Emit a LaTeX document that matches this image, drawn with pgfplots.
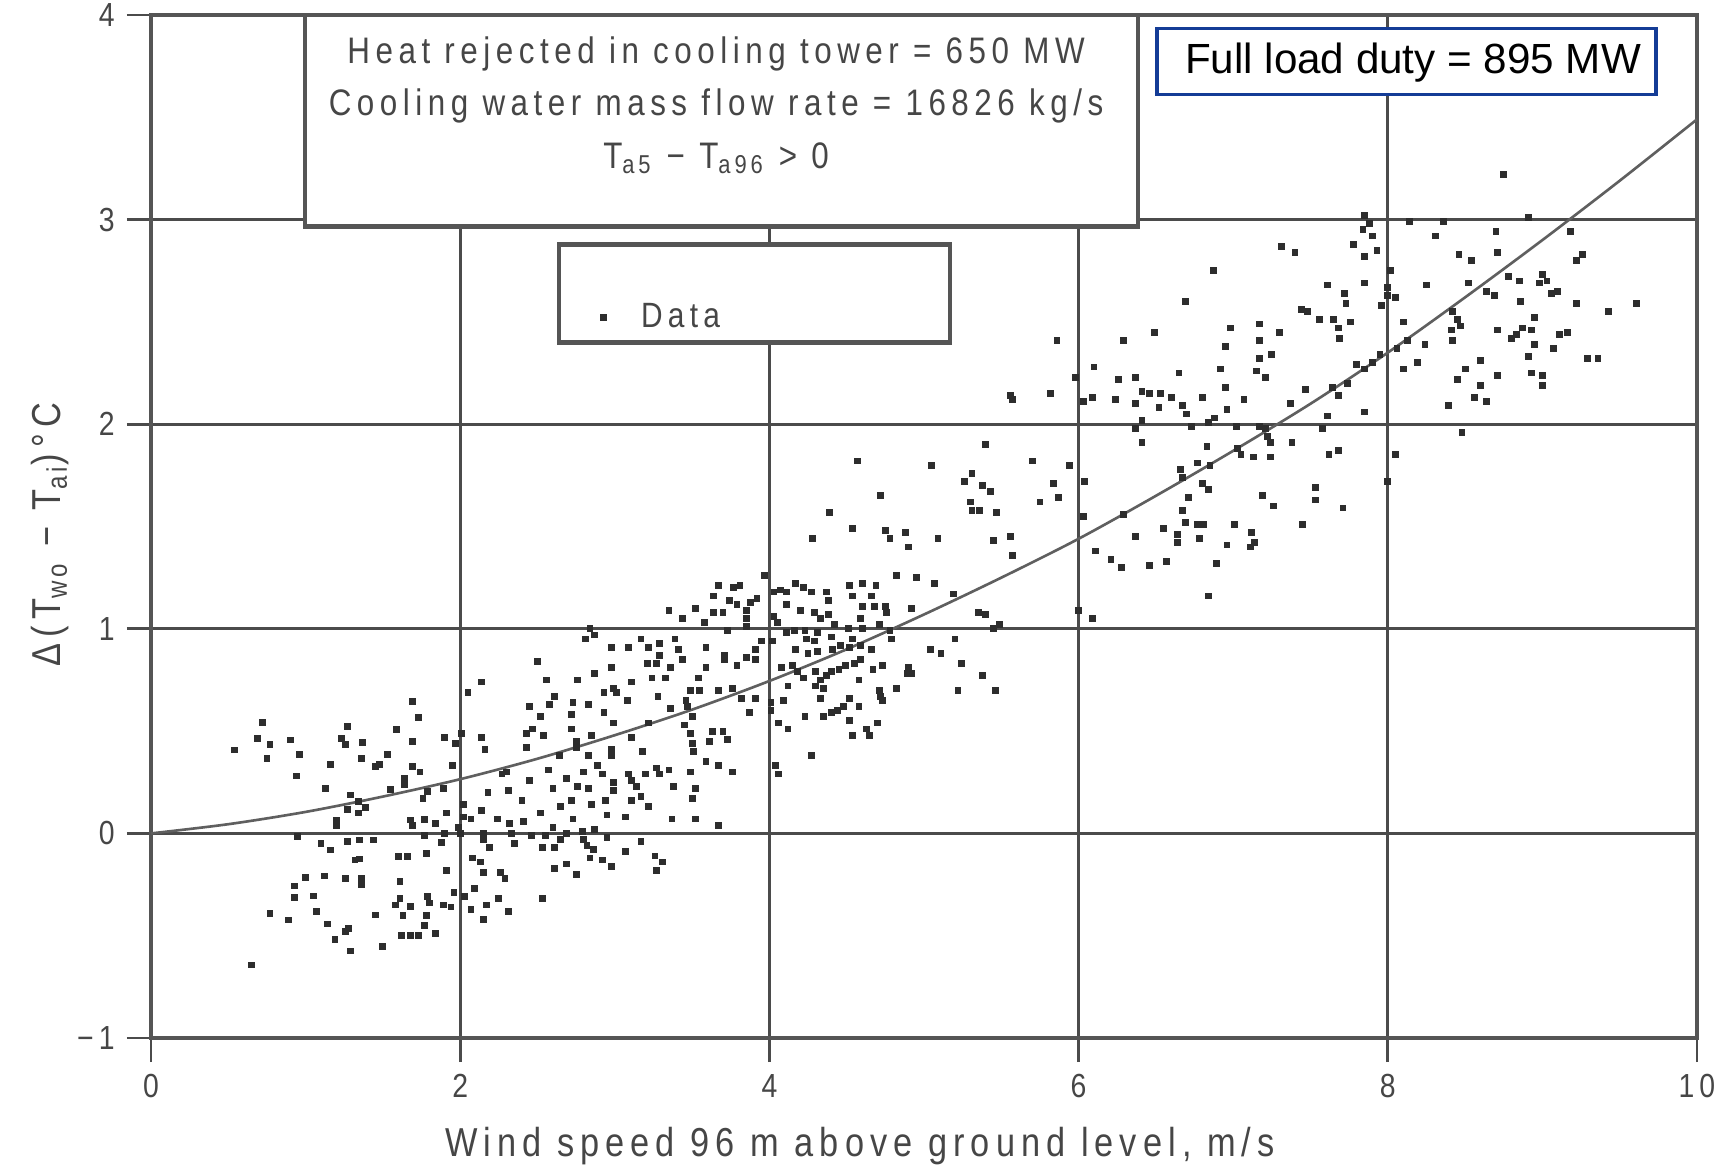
\documentclass[border=0pt]{standalone}
\usepackage{fontspec}
\setmainfont{Liberation Sans}
\newfontfamily\plotfont[FakeStretch=0.85,LetterSpace=15]{Liberation Sans}
\usepackage{pgfplots}
\pgfplotsset{compat=1.18}
\definecolor{scan}{RGB}{70,70,70}
\definecolor{gridc}{RGB}{75,75,75}
\definecolor{curvec}{RGB}{95,95,95}
\definecolor{framec}{RGB}{85,85,85}
\definecolor{dotc}{RGB}{45,45,45}
\definecolor{boxblue}{RGB}{20,60,150}
\begin{document}
\begin{tikzpicture}
\path[use as bounding box] (-15.1mm,-13mm) rectangle (157.7mm,103.8mm);
\begin{axis}[
  at={(0,0)}, anchor=south west,
  scale only axis, width=154.6mm, height=102.3mm,
  xmin=0, xmax=10, ymin=-1, ymax=4,
  xtick={0,2,4,6,8,10}, ytick={-1,0,1,2,3,4},
  yticklabels={−1,0,1,2,3,4},
  grid=major,
  grid style={line width=0.75pt, color=gridc},
  axis line style={line width=1.4pt, color=framec},
  tick style={line width=0.75pt, color=gridc},
  tick align=outside, major tick length=2.4mm,
  xtick pos=left, ytick pos=left,
  /pgf/number format/assume math mode=true,
  tick label style={font=\plotfont\fontsize{9.5}{11}\selectfont, text=scan},
  xlabel={Wind speed 96 m above ground level, m/s},
  ylabel={Δ(T\textsubscript{wo} − T\textsubscript{ai})°C},
  label style={font=\plotfont\fontsize{11.5}{13.5}\selectfont, text=scan},
  xlabel style={at={(axis description cs:0.4586,-0.1056)}, anchor=center},
  ylabel style={at={(axis description cs:-0.0653,0.492)}, anchor=center},
  legend image code/.code={\draw[#1] plot coordinates {(0.3cm,0cm)}; \path (0cm,0cm) (0.6cm,0cm);},
  legend style={at={(axis cs:2.723,2.52)}, anchor=west, draw=none, fill=none,
    font=\plotfont\fontsize{10}{12}\selectfont, text=scan, inner sep=0pt},
]
\addplot[only marks, mark=square*, mark size=0.27mm, mark options={draw=dotc, fill=dotc}, color=dotc] table[x=x, y=y] {
x y
1.69 0.645
1.73 0.566
0.72 0.544
1.27 0.522
1.59 0.506
0.54 0.408
0.69 0.465
0.77 0.433
0.90 0.457
0.75 0.368
0.96 0.384
0.94 0.281
1.23 0.465
1.26 0.433
1.37 0.444
1.16 0.335
1.36 0.368
1.53 0.384
1.45 0.327
1.48 0.335
1.69 0.449
1.69 0.327
1.74 0.30
1.13 0.221
1.64 0.27
1.64 0.24
1.55 0.213
1.79 0.204
1.76 0.17
1.29 0.188
1.34 0.156
1.27 0.118
1.34 0.10
1.39 0.125
1.20 0.066
1.20 0.04
1.68 0.066
1.69 0.04
1.77 0.069
1.84 0.05
0.95 -0.016
1.10 -0.051
1.16 -0.081
1.27 -0.04
1.35 -0.032
1.44 -0.032
1.77 -0.012
1.88 -0.045
1.32 -0.13
1.35 -0.125
1.60 -0.113
1.66 -0.113
1.78 -0.10
1.00 -0.216
0.93 -0.257
1.12 -0.208
1.26 -0.219
1.36 -0.219
1.36 -0.25
1.61 -0.236
0.93 -0.312
1.05 -0.306
0.77 -0.39
0.89 -0.423
1.07 -0.382
1.14 -0.443
1.58 -0.35
1.61 -0.32
1.68 -0.358
1.63 -0.403
1.45 -0.399
1.79 -0.309
1.80 -0.34
1.89 -0.35
1.78 -0.402
1.77 -0.45
1.26 -0.48
1.28 -0.465
1.19 -0.517
1.62 -0.50
1.68 -0.50
1.73 -0.50
1.84 -0.49
1.29 -0.575
1.50 -0.553
0.65 -0.643
3.35 1.09
3.52 1.10
3.44 1.05
2.84 1.00
2.81 0.95
2.87 0.97
2.98 0.91
3.09 0.91
3.17 0.95
3.22 0.91
3.29 0.93
3.39 0.95
3.41 0.90
3.29 0.87
3.21 0.83
3.27 0.83
3.36 0.81
3.44 0.85
2.50 0.84
2.14 0.74
2.98 0.81
2.87 0.78
2.56 0.75
2.76 0.75
3.11 0.74
3.24 0.76
3.33 0.76
2.05 0.69
2.99 0.71
3.01 0.69
2.93 0.69
3.08 0.65
3.28 0.67
2.61 0.67
2.58 0.63
2.45 0.62
2.73 0.64
2.83 0.63
3.36 0.61
2.52 0.57
2.72 0.58
2.93 0.59
2.99 0.54
2.47 0.51
2.43 0.49
2.54 0.48
2.72 0.51
2.85 0.48
3.11 0.47
3.22 0.54
2.01 0.49
1.90 0.47
1.97 0.44
2.14 0.47
2.16 0.41
2.43 0.42
2.75 0.45
2.75 0.42
2.83 0.38
2.98 0.41
2.98 0.38
3.18 0.40
2.64 0.38
1.95 0.33
2.27 0.29
2.30 0.30
2.57 0.31
2.80 0.30
2.89 0.33
2.92 0.29
3.09 0.29
3.20 0.29
3.27 0.32
3.29 0.29
3.35 0.31
2.45 0.26
2.69 0.27
2.60 0.22
2.76 0.23
2.83 0.22
2.99 0.25
2.99 0.21
3.11 0.26
3.14 0.23
3.38 0.23
1.89 0.22
2.18 0.20
2.31 0.21
2.40 0.16
2.65 0.13
2.72 0.16
2.85 0.14
2.94 0.16
3.11 0.16
3.17 0.18
3.22 0.13
3.50 0.17
2.02 0.14
1.91 0.10
2.14 0.11
2.02 0.08
2.07 0.07
2.24 0.07
2.32 0.05
2.41 0.06
2.52 0.10
2.73 0.07
2.95 0.09
3.07 0.08
3.37 0.07
1.99 0.03
2.00 0.00
2.15 0.00
2.33 0.00
2.46 -0.01
2.55 -0.01
2.60 0.03
2.69 0.00
2.79 0.01
2.87 0.02
2.95 -0.02
1.90 0.00
3.17 -0.04
2.15 -0.03
2.19 -0.07
2.35 -0.05
2.53 -0.07
2.61 -0.07
2.65 -0.03
2.80 -0.03
2.82 -0.06
2.86 -0.08
3.07 -0.09
2.08 -0.12
2.13 -0.14
2.84 -0.12
2.92 -0.13
2.98 -0.16
3.26 -0.11
3.31 -0.14
3.27 -0.18
1.91 -0.18
2.15 -0.19
2.26 -0.19
2.29 -0.22
2.61 -0.17
2.69 -0.15
2.75 -0.20
1.96 -0.29
2.03 -0.31
2.09 -0.27
2.07 -0.37
1.94 -0.36
2.17 -0.35
2.25 -0.32
2.31 -0.38
2.15 -0.42
2.53 -0.32
4.57 1.82
5.05 1.80
4.72 1.65
4.39 1.57
4.54 1.49
4.28 1.44
4.75 1.48
4.78 1.44
4.88 1.47
4.90 1.40
3.97 1.26
4.82 1.26
4.95 1.25
5.07 1.22
3.67 1.21
3.77 1.20
3.81 1.21
3.64 1.16
3.74 1.14
3.79 1.12
3.85 1.09
3.88 1.13
3.92 1.15
3.85 1.05
3.85 1.01
3.64 1.08
3.70 1.08
3.58 1.03
3.73 0.99
4.03 1.18
4.07 1.19
4.11 1.18
4.17 1.22
4.22 1.20
4.27 1.18
4.11 1.12
4.20 1.09
4.03 1.06
4.05 1.03
4.29 1.08
4.33 1.05
4.37 1.18
4.38 1.14
4.38 1.07
4.42 1.02
4.52 1.21
4.60 1.22
4.69 1.21
4.54 1.16
4.60 1.11
4.66 1.16
4.68 1.11
4.75 1.11
4.76 1.08
4.59 1.05
4.51 1.00
4.60 1.00
4.71 1.02
4.78 0.99
4.79 0.95
4.92 1.10
4.11 0.98
4.16 0.99
4.23 0.99
4.24 0.95
4.29 0.94
4.31 0.98
4.40 0.96
3.95 0.94
4.02 0.94
3.91 0.90
3.85 0.86
3.91 0.85
3.71 0.87
3.71 0.85
3.59 0.91
3.79 0.82
3.59 0.81
3.54 0.76
4.17 0.90
4.25 0.88
4.31 0.89
4.41 0.90
4.46 0.92
4.52 0.91
4.54 0.95
4.59 0.92
4.66 0.90
5.04 0.90
4.08 0.81
4.15 0.82
4.18 0.79
4.22 0.76
4.30 0.79
4.33 0.75
4.37 0.77
4.40 0.79
4.45 0.80
4.49 0.82
4.55 0.83
4.59 0.85
4.58 0.75
4.67 0.80
4.73 0.82
4.90 0.81
4.92 0.78
4.89 0.78
4.30 0.72
4.35 0.71
4.12 0.72
4.82 0.71
4.71 0.70
4.72 0.67
4.73 0.65
3.49 0.70
3.55 0.70
3.67 0.70
3.76 0.71
3.82 0.66
3.91 0.66
3.46 0.65
3.47 0.62
3.87 0.59
4.01 0.64
4.01 0.60
4.09 0.65
4.33 0.66
4.52 0.66
4.58 0.62
3.50 0.57
4.23 0.57
4.35 0.57
4.40 0.59
4.44 0.60
4.48 0.62
4.52 0.55
4.06 0.54
4.12 0.51
3.45 0.53
3.49 0.49
3.63 0.50
3.70 0.50
3.73 0.46
3.61 0.45
3.50 0.44
3.51 0.40
4.54 0.48
4.63 0.51
4.65 0.48
4.70 0.54
4.27 0.38
3.59 0.35
3.67 0.33
3.49 0.30
3.76 0.30
4.04 0.33
4.06 0.29
3.52 0.22
3.52 0.07
3.67 0.04
5.86 2.41
6.29 2.41
6.49 2.45
6.10 2.28
5.98 2.23
6.26 2.22
6.37 2.23
6.65 2.25
5.56 2.14
5.57 2.12
5.82 2.15
6.03 2.11
6.09 2.13
6.24 2.12
6.37 2.10
6.41 2.16
6.46 2.15
6.53 2.15
6.60 2.13
6.52 2.08
6.41 2.02
6.37 1.98
6.41 1.91
5.40 1.90
5.70 1.82
5.94 1.80
5.31 1.76
5.84 1.71
5.87 1.64
5.26 1.72
5.38 1.70
5.43 1.67
6.04 1.72
5.30 1.62
5.31 1.58
5.36 1.58
5.47 1.57
5.75 1.62
6.03 1.55
6.29 1.56
5.09 1.44
5.45 1.43
5.56 1.45
5.57 1.36
6.11 1.38
6.21 1.34
6.28 1.30
6.37 1.45
6.46 1.31
6.57 1.33
6.55 1.49
6.64 1.46
6.64 1.42
6.71 1.64
6.66 1.78
5.19 1.17
5.35 1.08
5.40 1.07
5.45 1.00
5.49 1.02
6.00 1.09
6.09 1.05
5.20 0.95
5.11 0.88
5.24 0.83
5.38 0.77
5.22 0.70
5.46 0.70
7.85 3.02
7.88 2.98
7.84 2.95
7.90 2.92
7.93 2.85
8.14 2.99
7.31 2.87
7.40 2.84
6.87 2.75
7.78 2.88
7.85 2.82
7.85 2.69
8.02 2.75
8.00 2.67
8.05 2.62
8.00 2.63
7.61 2.68
7.72 2.64
7.73 2.59
7.96 2.58
6.69 2.60
7.44 2.56
7.48 2.55
7.56 2.51
7.65 2.51
7.76 2.50
7.68 2.47
7.69 2.42
8.10 2.50
7.17 2.49
6.98 2.47
7.30 2.45
6.95 2.38
7.17 2.41
7.25 2.34
7.17 2.32
6.92 2.27
7.15 2.26
7.21 2.23
6.95 2.18
6.80 2.13
7.07 2.12
7.37 2.10
6.67 2.09
6.70 2.05
6.96 2.07
6.84 2.01
6.88 2.03
6.73 1.99
7.02 1.99
7.17 1.99
7.21 1.98
7.47 2.17
7.64 2.18
7.68 2.14
7.74 2.20
7.80 2.29
7.85 2.27
7.90 2.30
7.95 2.34
8.06 2.37
8.10 2.27
7.61 2.04
7.85 2.06
7.58 1.98
7.22 1.94
7.24 1.91
7.38 1.91
6.83 1.89
7.03 1.88
7.05 1.85
7.13 1.84
7.24 1.84
6.77 1.81
6.85 1.80
6.67 1.74
6.80 1.71
6.84 1.68
7.62 1.85
7.68 1.87
8.05 1.85
8.00 1.72
7.53 1.69
7.53 1.63
7.19 1.65
7.26 1.60
7.71 1.59
6.67 1.58
6.69 1.52
6.77 1.51
6.81 1.51
7.01 1.51
7.45 1.51
7.12 1.47
7.14 1.42
7.11 1.40
6.78 1.44
6.96 1.41
6.89 1.32
6.84 1.16
8.75 3.22
8.36 2.99
8.91 3.01
9.18 2.94
8.31 2.92
8.70 2.94
8.46 2.83
8.54 2.80
8.71 2.84
9.22 2.80
9.26 2.83
8.25 2.68
8.52 2.69
8.78 2.72
8.85 2.70
9.00 2.73
8.98 2.69
9.03 2.70
8.64 2.65
8.69 2.63
9.06 2.64
9.10 2.65
8.42 2.55
8.45 2.51
8.86 2.60
8.95 2.52
9.22 2.59
9.43 2.55
9.61 2.59
8.41 2.46
8.42 2.41
8.47 2.48
8.71 2.46
8.80 2.42
8.83 2.44
8.87 2.47
8.93 2.46
9.11 2.44
9.16 2.45
8.95 2.39
9.07 2.37
8.13 2.41
8.24 2.39
8.19 2.30
8.60 2.31
8.91 2.33
9.29 2.32
9.36 2.32
8.50 2.27
8.45 2.22
8.71 2.24
8.93 2.25
9.00 2.24
9.00 2.19
8.60 2.19
8.56 2.13
8.64 2.11
8.39 2.09
8.48 1.96
};
\addlegendentry{Data}
\addplot[smooth, line width=0.75pt, color=curvec, mark=none, forget plot] coordinates {
(0,0) (0.5,0.045) (1,0.105) (1.5,0.18) (2,0.265) (2.5,0.365) (3,0.48) (3.5,0.605)
(4,0.745) (4.5,0.9) (5,1.07) (5.5,1.25) (6,1.44) (6.5,1.65) (7,1.87) (7.5,2.1)
(8,2.35) (8.5,2.62) (9,2.9) (9.5,3.19) (10,3.49)
};
\draw[framec, line width=1.2pt, fill=white] (axis cs:0.996,2.966) rectangle (axis cs:6.384,4);
\node[font=\plotfont\fontsize{10.5}{12.5}\selectfont, text=scan, inner sep=0pt] at (axis cs:3.655,3.812) {Heat rejected in cooling tower = 650 MW};
\node[font=\plotfont\fontsize{10.5}{12.5}\selectfont, text=scan, inner sep=0pt] at (axis cs:3.655,3.557) {Cooling water mass flow rate = 16826 kg/s};
\node[font=\plotfont\fontsize{10.5}{12.5}\selectfont, text=scan, inner sep=0pt] at (axis cs:3.655,3.300) {T\textsubscript{a5} − T\textsubscript{a96} > 0};
\draw[framec, line width=1.2pt, fill=white] (axis cs:2.639,2.399) rectangle (axis cs:5.168,2.878);
\draw[boxblue, line width=1pt, fill=white] (axis cs:6.507,3.611) rectangle (axis cs:9.735,3.934);
\node[font=\fontsize{12}{14}\selectfont, text=black, inner sep=0pt] at (axis cs:8.163,3.768) {Full load duty = 895 MW};
\end{axis}
\end{tikzpicture}
\end{document}
